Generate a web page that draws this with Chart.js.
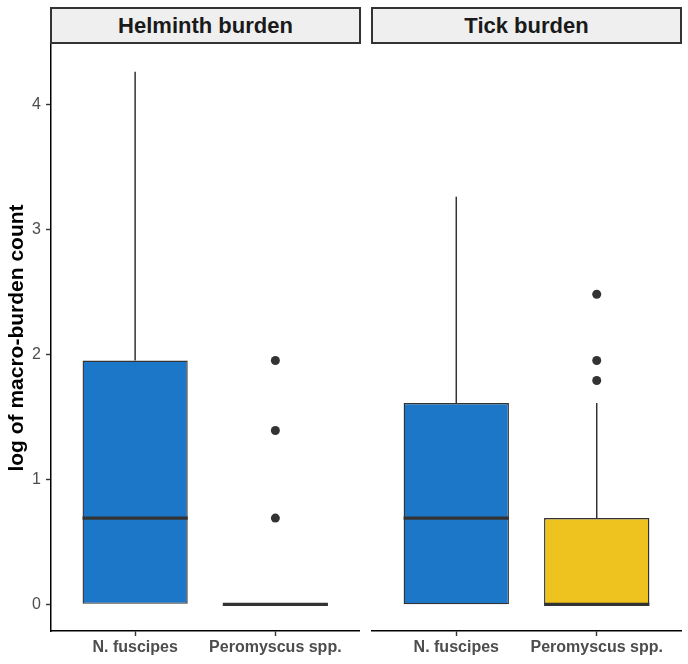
<!DOCTYPE html>
<html>
<head>
<meta charset="utf-8">
<script src="https://cdn.jsdelivr.net/npm/chart.js@4"></script>
<style>
  body { margin: 0; background: #fff; width: 688px; height: 664px; position: relative; overflow: hidden; font-family: "Liberation Sans", Arial, sans-serif; }
  .strip { position: absolute; top: 7px; height: 37px; box-sizing: border-box; border: 2px solid #333; background: #efefef; font-weight: bold; font-size: 22px; color: #1a1a1a; text-align: center; line-height: 33px; }
  canvas { position: absolute; top: 0; }
</style>
</head>
<body>
<div class="strip" id="s1" style="left:50px;width:311px"></div>
<div class="strip" id="s2" style="left:371px;width:311px"></div>
<canvas id="c1" width="364" height="664" style="left:0"></canvas>
<canvas id="c2" width="324" height="664" style="left:364px"></canvas>
<script>
const species = ['N. fuscipes', 'Peromyscus spp.'];
const panelNames = ['Helminth burden', 'Tick burden'];
const yTicks = [0, 1, 2, 3, 4];
const fills = ['#1D77C9', '#EEC21F'];

// helminth panel
const helminthMin = [0, 0];
const helminthQ1 = [0, 0];
const helminthMed = [0.69, 0];
const helminthQ3 = [1.95, 0];
const helminthMax = [4.26, 0];
const helminthOut = [[], [0.69, 1.39, 1.95]];

// tick panel
const tickMin = [0, 0];
const tickQ1 = [0, 0];
const tickMed = [0.69, 0];
const tickQ3 = [1.61, 0.69];
const tickMax = [3.26, 1.61];
const tickOut = [[], [1.79, 1.95, 2.48]];

document.getElementById('s1').textContent = panelNames[0];
document.getElementById('s2').textContent = panelNames[1];

const boxExtras = {
  id: 'boxExtras',
  beforeDatasetsDraw(chart, args, opts) {
    const ctx = chart.ctx, xs = chart.scales.x, ys = chart.scales.y;
    ctx.save();
    ctx.strokeStyle = '#333';
    ctx.lineWidth = 1.5;
    species.forEach((s, i) => {
      const x = xs.getPixelForValue(i + 1);
      ctx.beginPath();
      ctx.moveTo(x, ys.getPixelForValue(opts.q3[i]));
      ctx.lineTo(x, ys.getPixelForValue(opts.max[i]));
      ctx.moveTo(x, ys.getPixelForValue(opts.q1[i]));
      ctx.lineTo(x, ys.getPixelForValue(opts.min[i]));
      ctx.stroke();
    });
    ctx.restore();
  },
  afterDatasetsDraw(chart, args, opts) {
    const ctx = chart.ctx, ys = chart.scales.y;
    const meta = chart.getDatasetMeta(0);
    ctx.save();
    ctx.strokeStyle = '#333';
    ctx.lineWidth = 3.2;
    meta.data.forEach((el, i) => {
      const y = ys.getPixelForValue(opts.med[i]);
      ctx.beginPath();
      ctx.moveTo(el.x - el.width / 2, y);
      ctx.lineTo(el.x + el.width / 2, y);
      ctx.stroke();
    });
    ctx.restore();
  }
};

function makePanel(id, q1, q3, med, min, max, out, showY, padLeft, padRight) {
  const points = [];
  out.forEach((vals, i) => vals.forEach(v => points.push({ x: i + 1, y: v })));
  const axisGrid = { display: true, drawOnChartArea: false, drawTicks: true, tickLength: 5, color: '#333', tickWidth: 1.4, tickColor: '#333', offset: false };
  return new Chart(document.getElementById(id), {
    type: 'bar',
    data: {
      datasets: [{
        data: species.map((s, i) => ({ x: i + 1, y: [q1[i], q3[i]] })),
        backgroundColor: fills,
        borderColor: '#333',
        borderWidth: 1.4,
        borderSkipped: false,
        barPercentage: 0.75,
        categoryPercentage: 1
      }, {
        type: 'scatter',
        data: points,
        pointRadius: 4.5,
        pointBackgroundColor: '#333',
        pointBorderWidth: 0
      }]
    },
    options: {
      responsive: false,
      animation: false,
      layout: { padding: { top: 45, left: padLeft, right: padRight, bottom: 0 } },
      plugins: {
        legend: { display: false },
        tooltip: { enabled: false },
        boxExtras: { q1, q3, med, min, max }
      },
      scales: {
        x: {
          type: 'linear', min: 0.4, max: 2.6, offset: false,
          afterBuildTicks: s => { s.ticks = species.map((c, i) => ({ value: i + 1 })); },
          afterFit: s => { s.height = 33; },
          border: { display: true, color: '#000', width: 1.5 },
          grid: axisGrid,
          ticks: { callback: v => species[v - 1], color: '#4d4d4d', font: { size: 16, weight: 'bold' }, padding: 2, autoSkip: false, maxRotation: 0 }
        },
        y: {
          type: 'linear', min: -0.213, max: 4.473, display: showY,
          afterBuildTicks: s => { s.ticks = yTicks.map(v => ({ value: v })); },
          afterFit: s => { s.width = showY ? 51 : 0; },
          border: { display: true, color: '#000', width: 1.5 },
          grid: axisGrid,
          ticks: { color: '#4d4d4d', font: { size: 16 }, padding: 5 },
          title: { display: true, text: 'log of macro-burden count', color: '#000', font: { size: 21, weight: 'bold' }, padding: { top: 5, bottom: 0 } }
        }
      }
    },
    plugins: [boxExtras]
  });
}

Chart.defaults.font.family = '"Liberation Sans", Arial, sans-serif';
makePanel('c1', helminthQ1, helminthQ3, helminthMed, helminthMin, helminthMax, helminthOut, true, 0, 3);
makePanel('c2', tickQ1, tickQ3, tickMed, tickMin, tickMax, tickOut, false, 8, 7);
</script>
</body>
</html>
